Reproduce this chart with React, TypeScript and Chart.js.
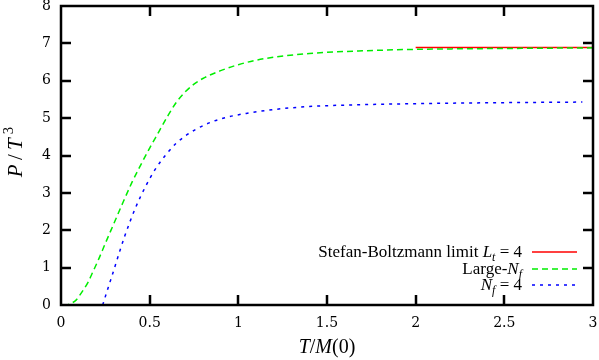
import React, { useEffect, useRef } from "react";
import { Chart, registerables } from "chart.js";

Chart.register(...registerables);

// Large-N_f curve
const tLarge = [0.013, 0.04, 0.06, 0.085, 0.107, 0.13, 0.154, 0.18, 0.21, 0.25, 0.3, 0.35, 0.4, 0.45, 0.5, 0.55, 0.6, 0.65, 0.7, 0.75, 0.8, 0.9, 1.0, 1.1, 1.2, 1.4, 1.7, 2.0, 2.4, 2.7, 3.0];
const pLarge = [0, 0.01, 0.05, 0.13, 0.27, 0.43, 0.62, 0.89, 1.2, 1.65, 2.2, 2.75, 3.28, 3.75, 4.2, 4.62, 5.04, 5.42, 5.7, 5.91, 6.06, 6.27, 6.43, 6.55, 6.63, 6.73, 6.8, 6.84, 6.86, 6.87, 6.88];

// N_f = 4 curve
const tNf4 = [0.235, 0.265, 0.295, 0.33, 0.36, 0.42, 0.48, 0.53, 0.6, 0.65, 0.7, 0.76, 0.85, 0.95, 1.05, 1.2, 1.4, 1.7, 2.2, 2.94];
const pNf4 = [0, 0.45, 0.89, 1.42, 1.85, 2.6, 3.2, 3.62, 4.07, 4.33, 4.52, 4.7, 4.9, 5.04, 5.13, 5.23, 5.31, 5.36, 5.4, 5.43];

// Stefan-Boltzmann limit L_t = 4
const tSB = [2.0, 3.0];
const pSB = [6.89, 6.89];

const xTicks = [0, 0.5, 1, 1.5, 2, 2.5, 3];
const yTicks = [0, 1, 2, 3, 4, 5, 6, 7, 8];

type Run = { t: string; it?: boolean; sub?: boolean; sup?: boolean };

const FAMILY = "'Liberation Serif', 'DejaVu Serif', serif";

function fontFor(r: Run, size: number) {
  const s = r.sub || r.sup ? size * 0.7 : size;
  return `${r.it ? "italic " : ""}${s}px ${FAMILY}`;
}

function runsWidth(ctx: CanvasRenderingContext2D, runs: Run[], size: number) {
  let w = 0;
  for (const r of runs) {
    ctx.font = fontFor(r, size);
    w += ctx.measureText(r.t).width;
  }
  return w;
}

function drawRuns(ctx: CanvasRenderingContext2D, runs: Run[], x: number, y: number, align: "right" | "center" | "left", size: number) {
  const w = runsWidth(ctx, runs, size);
  let cx = align === "right" ? x - w : align === "center" ? x - w / 2 : x;
  ctx.textBaseline = "alphabetic";
  ctx.textAlign = "left";
  for (const r of runs) {
    ctx.font = fontFor(r, size);
    const dy = r.sub ? size * 0.25 : r.sup ? -size * 0.42 : 0;
    ctx.fillText(r.t, cx, y + dy);
    cx += ctx.measureText(r.t).width;
  }
}

const legendRuns: Run[][] = [
  [{ t: "Stefan-Boltzmann limit " }, { t: "L", it: true }, { t: "t", it: true, sub: true }, { t: " = 4" }],
  [{ t: "Large-" }, { t: "N", it: true }, { t: "f", it: true, sub: true }],
  [{ t: "N", it: true }, { t: "f", it: true, sub: true }, { t: " = 4" }],
];

const textPlugin = {
  id: "mathText",
  afterDraw(chart: any) {
    const ctx: CanvasRenderingContext2D = chart.ctx;
    const a = chart.chartArea;
    ctx.save();
    // frame with inward ticks on all four sides
    ctx.strokeStyle = "#000000";
    ctx.lineWidth = 2.5;
    ctx.setLineDash([]);
    ctx.strokeRect(a.left, a.top, a.right - a.left, a.bottom - a.top);
    const tl = 10;
    ctx.beginPath();
    for (let i = 1; i < xTicks.length - 1; i++) {
      const px = Math.round(chart.scales.x.getPixelForValue(xTicks[i]));
      ctx.moveTo(px, a.bottom);
      ctx.lineTo(px, a.bottom - tl);
      ctx.moveTo(px, a.top);
      ctx.lineTo(px, a.top + tl);
    }
    for (let i = 1; i < yTicks.length - 1; i++) {
      const py = Math.round(chart.scales.y.getPixelForValue(yTicks[i]));
      ctx.moveTo(a.left, py);
      ctx.lineTo(a.left + tl, py);
      ctx.moveTo(a.right, py);
      ctx.lineTo(a.right - tl, py);
    }
    ctx.stroke();

    // legend
    const rowsY = [252, 269, 285];
    const order = [2, 0, 1];
    order.forEach((di, i) => {
      const ds = chart.data.datasets[di];
      const y = rowsY[i];
      ctx.fillStyle = "#000000";
      drawRuns(ctx, legendRuns[i], 522, y + 5, "right", 17);
      ctx.save();
      ctx.strokeStyle = ds.borderColor;
      ctx.lineWidth = 1.5;
      ctx.setLineDash(ds.borderDash || []);
      ctx.beginPath();
      ctx.moveTo(532, y);
      ctx.lineTo(577, y);
      ctx.stroke();
      ctx.restore();
    });

    // axis titles
    ctx.fillStyle = "#000000";
    drawRuns(ctx, [{ t: "T", it: true }, { t: "/" }, { t: "M", it: true }, { t: "(0)" }], 327, 353, "center", 20);
    ctx.save();
    ctx.translate(22, 152);
    ctx.rotate(-Math.PI / 2);
    drawRuns(ctx, [{ t: "P", it: true }, { t: "\u2009/\u2009" }, { t: "T", it: true }, { t: "\u2009" }, { t: "3", sup: true }], 0, 0, "center", 21);
    ctx.restore();
    ctx.restore();
  },
};

export default function App() {
  const ref = useRef<HTMLCanvasElement>(null);
  useEffect(() => {
    if (!ref.current) return;
    const tickFont = { family: "'DejaVu Serif', serif", size: 14 };
    const fmt = (v: any) => String(Number(v));
    const frameGrid = { display: true, drawOnChartArea: false, drawTicks: true, tickLength: -9, color: "#000000", lineWidth: 2 };
    const frameBorder = { display: true, color: "#000000", width: 2 };
    const chart = new Chart(ref.current, {
      type: "line",
      data: {
        datasets: [
          {
            label: "Large-Nf",
            data: tLarge.map((t, i) => ({ x: t, y: pLarge[i] })),
            borderColor: "#00ee00",
            borderWidth: 1.5,
            borderDash: [6, 4],
            pointRadius: 0,
            cubicInterpolationMode: "monotone",
            fill: false,
          },
          {
            label: "Nf = 4",
            data: tNf4.map((t, i) => ({ x: t, y: pNf4[i] })),
            borderColor: "#0000ff",
            borderWidth: 1.5,
            borderDash: [3, 5],
            pointRadius: 0,
            cubicInterpolationMode: "monotone",
            fill: false,
          },
          {
            label: "Stefan-Boltzmann limit Lt = 4",
            data: tSB.map((t, i) => ({ x: t, y: pSB[i] })),
            borderColor: "#ff0000",
            borderWidth: 1.5,
            pointRadius: 0,
            fill: false,
          },
        ],
      },
      options: {
        animation: false,
        responsive: false,
        layout: { padding: { top: 6, right: 6, left: 0, bottom: 0 } },
        plugins: { legend: { display: false }, tooltip: { enabled: false } },
        scales: {
          x: {
            type: "linear",
            position: "bottom",
            min: 0,
            max: 3,
            grid: frameGrid,
            border: frameBorder,
            afterBuildTicks: (s: any) => {
              s.ticks = xTicks.map((v) => ({ value: v }));
            },
            ticks: { font: tickFont, color: "#000", padding: 19, maxRotation: 0, autoSkip: false, callback: fmt },
            afterFit: (s: any) => {
              s.height = 55;
              s.paddingLeft = 0;
              s.paddingRight = 0;
            },
          },
          x2: {
            type: "linear",
            position: "top",
            min: 0,
            max: 3,
            grid: frameGrid,
            border: frameBorder,
            afterBuildTicks: (s: any) => {
              s.ticks = xTicks.map((v) => ({ value: v }));
            },
            ticks: { display: false },
            afterFit: (s: any) => {
              s.height = 0;
              s.paddingLeft = 0;
              s.paddingRight = 0;
            },
          },
          y: {
            type: "linear",
            position: "left",
            min: 0,
            max: 8,
            grid: frameGrid,
            border: frameBorder,
            afterBuildTicks: (s: any) => {
              s.ticks = yTicks.map((v) => ({ value: v }));
            },
            ticks: { font: tickFont, color: "#000", padding: 19, autoSkip: false, callback: fmt },
            afterFit: (s: any) => {
              s.width = 61;
              s.paddingTop = 0;
              s.paddingBottom = 0;
            },
          },
          y2: {
            type: "linear",
            position: "right",
            min: 0,
            max: 8,
            grid: frameGrid,
            border: frameBorder,
            afterBuildTicks: (s: any) => {
              s.ticks = yTicks.map((v) => ({ value: v }));
            },
            ticks: { display: false },
            afterFit: (s: any) => {
              s.width = 0;
              s.paddingTop = 0;
              s.paddingBottom = 0;
            },
          },
        },
      },
      plugins: [textPlugin],
    } as any);
    return () => chart.destroy();
  }, []);
  return (
    <div style={{ position: "absolute", left: 0, top: 0, width: 599, height: 360, background: "#fff" }}>
      <canvas ref={ref} width={599} height={360} style={{ width: 599, height: 360 }} />
    </div>
  );
}
